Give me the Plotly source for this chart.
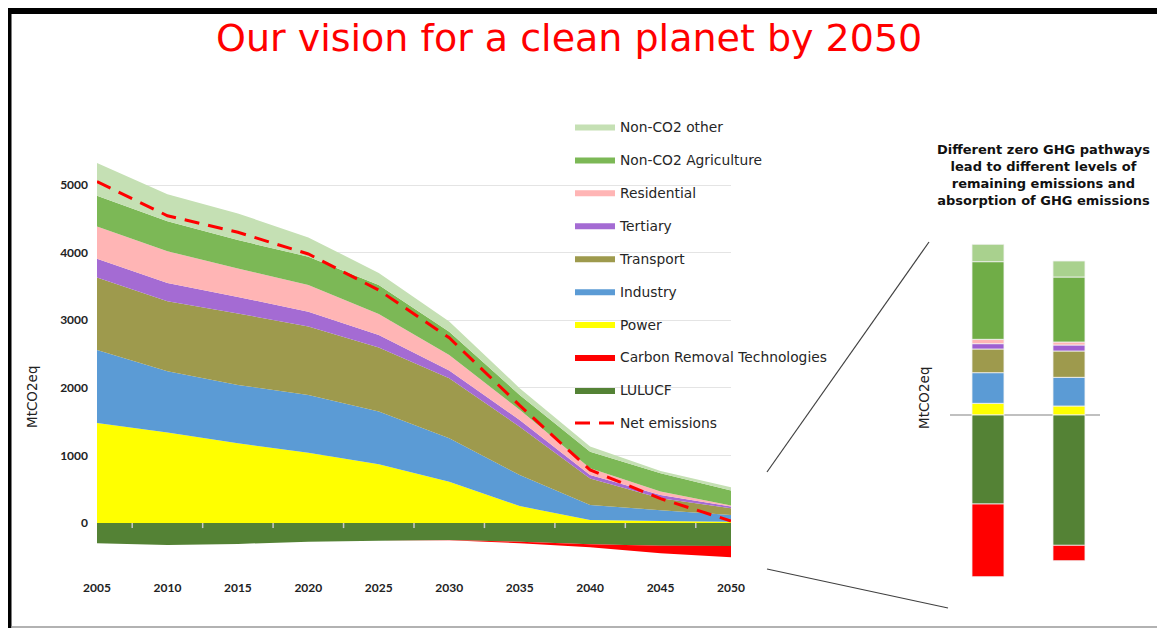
import plotly.graph_objects as go

# la pagina tiene 8 px de margen en el body: la figura se reduce y se desplaza
OFF = 8
W, H = 1165 - OFF, 628 - OFF

# datos (MtCO2eq)
years = [2005, 2010, 2015, 2020, 2025, 2030, 2035, 2040, 2045, 2050]
year_labels = [str(y) for y in years]

power = [1480, 1340, 1180, 1040, 870, 610, 250, 45, 30, 20]
industry = [1080, 905, 860, 855, 780, 645, 460, 220, 160, 100]
transport = [1070, 1035, 1060, 1010, 945, 885, 715, 395, 175, 100]
tertiary = [280, 270, 245, 220, 185, 115, 100, 50, 50, 25]
residential = [475, 470, 420, 395, 310, 230, 150, 100, 50, 15]
non_co2_agri = [455, 445, 420, 420, 430, 345, 220, 245, 270, 220]
non_co2_other = [485, 400, 395, 285, 180, 150, 100, 75, 35, 50]
lulucf = [-300, -325, -310, -276, -261, -251, -276, -315, -335, -340]
carbon_removal = [0, 0, 0, 0, 0, -5, -24, -45, -114, -167]
net_emissions = [5050, 4545, 4300, 3980, 3445, 2740, 1740, 785, 360, 30]

y_ticks = [0, 1000, 2000, 3000, 4000, 5000]

# barras de la derecha: dos trayectorias en 2050
pathways = ["A", "B"]
bar_power = [35, 27]
bar_industry = [92, 86]
bar_transport = [71, 79]
bar_tertiary = [16, 18]
bar_residential = [13, 9]
bar_agri = [233, 195]
bar_other = [52, 48]
bar_lulucf = [-267, -391]
bar_crt = [-218, -46]


def px_x(x):
    return max(x - OFF, 0) / W


def px_y(y):
    return 1 - max(y - OFF, 0) / H


font_txt = "DejaVu Sans, Verdana, sans-serif"
font_tick = "Lato, Calibri, sans-serif"

fig = go.Figure()

# areas positivas (orden de apilado desde cero)
capas = [
    ("Power", power, "#ffff00", 7),
    ("Industry", industry, "#5b9bd5", 6),
    ("Transport", transport, "#9e9a4d", 5),
    ("Tertiary", tertiary, "#a46bd3", 4),
    ("Residential", residential, "#ffb5b5", 3),
    ("Non-CO2 Agriculture", non_co2_agri, "#7cb856", 2),
    ("Non-CO2 other", non_co2_other, "#c5e0b4", 1),
]
for nombre, vals, color, rank in capas:
    fig.add_trace(go.Scatter(
        x=years, y=vals, name=nombre, stackgroup="pos", mode="lines",
        line=dict(width=0, color=color), fillcolor=color,
        legendgroup=nombre, legendrank=rank, hoverinfo="skip"))

# areas negativas
for nombre, vals, color, rank in [("LULUCF", lulucf, "#548235", 9),
                                  ("Carbon Removal Technologies", carbon_removal, "#ff0000", 8)]:
    fig.add_trace(go.Scatter(
        x=years, y=vals, name=nombre, stackgroup="neg", mode="lines",
        line=dict(width=0, color=color), fillcolor=color,
        legendgroup=nombre, legendrank=rank, hoverinfo="skip"))

# linea de emisiones netas
fig.add_trace(go.Scatter(
    x=years, y=net_emissions, name="Net emissions", mode="lines",
    line=dict(color="#ff0000", width=3, dash="15px,9px"),
    legendgroup="Net emissions", legendrank=10, hoverinfo="skip"))

# barras de la derecha
barras = [
    (bar_power, "#ffff00"), (bar_industry, "#5b9bd5"), (bar_transport, "#9e9a4d"),
    (bar_tertiary, "#9e5fd1"), (bar_residential, "#ffb5b5"), (bar_agri, "#70ad47"),
    (bar_other, "#a9d18e"), (bar_lulucf, "#548235"), (bar_crt, "#ff0000"),
]
for vals, color in barras:
    fig.add_trace(go.Bar(
        x=pathways, y=vals, xaxis="x2", yaxis="y2", showlegend=False,
        marker=dict(color=color, line=dict(width=0.8, color="#f2f2f2")),
        hoverinfo="skip"))

# marcas de tick entre categorias sobre el cero
formas = []
for a, b in zip(years[:-1], years[1:]):
    formas.append(dict(type="line", xref="x", yref="y", x0=(a + b) / 2, x1=(a + b) / 2,
                       y0=0, y1=-75, line=dict(color="#c8c8c8", width=1.5), layer="above"))

# lineas de zoom hacia el panel derecho
formas.append(dict(type="line", xref="paper", yref="paper", x0=px_x(767), y0=px_y(472),
                   x1=px_x(929), y1=px_y(242), line=dict(color="#404040", width=1.2)))
formas.append(dict(type="line", xref="paper", yref="paper", x0=px_x(767), y0=px_y(569),
                   x1=px_x(948), y1=px_y(608), line=dict(color="#404040", width=1.2)))

# marco
formas.append(dict(type="rect", xref="paper", yref="paper", x0=px_x(6), x1=px_x(1165),
                   y0=px_y(14), y1=px_y(8), fillcolor="black", line=dict(width=0)))
formas.append(dict(type="rect", xref="paper", yref="paper", x0=px_x(6), x1=px_x(11.5),
                   y0=px_y(628), y1=px_y(8), fillcolor="black", line=dict(width=0)))
formas.append(dict(type="line", xref="paper", yref="paper", x0=px_x(1164), x1=px_x(1164),
                   y0=px_y(14), y1=px_y(627), line=dict(color="#333333", width=1.5)))
formas.append(dict(type="line", xref="paper", yref="paper", x0=px_x(11), x1=px_x(1165),
                   y0=px_y(627), y1=px_y(627), line=dict(color="#999999", width=1.5)))

anotaciones = [
    dict(text="Our vision for a clean planet by 2050", x=px_x(569), y=px_y(38),
         font=dict(family=font_txt, size=38, color="#ff0000")),
    dict(text="MtCO2eq", x=px_x(32), y=px_y(397), textangle=-90,
         font=dict(family=font_txt, size=13.5, color="#222222")),
    dict(text="MtCO2eq", x=px_x(924), y=px_y(398), textangle=-90,
         font=dict(family=font_txt, size=13.5, color="#222222")),
    dict(text="Different zero GHG pathways<br>lead to different levels of<br>"
              "remaining emissions and<br>absorption of GHG emissions",
         x=px_x(1043), y=px_y(175), align="center",
         font=dict(family=font_txt, size=13, color="#111111", weight="bold")),
]
for a in anotaciones:
    a.update(xref="paper", yref="paper", showarrow=False, xanchor="center", yanchor="middle")

# escala: cero en y=523 px, 1000 = 67.6 px
y_lo = -(575 - 523) / 67.6 * 1000
y_hi = (523 - 150) / 67.6 * 1000

fig.update_layout(
    width=W, height=H,
    margin=dict(l=0, r=0, t=0, b=0),
    paper_bgcolor="white", plot_bgcolor="rgba(0,0,0,0)",
    showlegend=True,
    barmode="relative", bargap=0.605,
    xaxis=dict(domain=[px_x(97), px_x(731)], range=[2005, 2050], tickvals=years,
               ticktext=year_labels, showgrid=False, zeroline=False, showline=False,
               ticks="", automargin=False, ticklabelstandoff=4,
               tickfont=dict(family=font_tick, size=12, color="#222222", weight="bold")),
    yaxis=dict(domain=[px_y(575), px_y(150)], range=[y_lo, y_hi], tickvals=y_ticks,
               showgrid=True, gridcolor="#e4e4e4", gridwidth=1.3, zeroline=False,
               showline=False, ticks="", automargin=False, ticklabelstandoff=8,
               tickfont=dict(family=font_tick, size=12, color="#222222", weight="bold")),
    xaxis2=dict(domain=[px_x(950), px_x(1100)], anchor="y2", range=[-0.469, 1.383],
                showticklabels=False, showgrid=False, zeroline=False, showline=False,
                ticks="", automargin=False),
    yaxis2=dict(domain=[px_y(590), px_y(230)], anchor="x2", range=[-525, 555],
                showticklabels=False, showgrid=False, zeroline=True,
                zerolinecolor="#c0c0c0", zerolinewidth=1.5, showline=False,
                ticks="", automargin=False),
    legend=dict(x=px_x(570), y=px_y(111), xanchor="left", yanchor="top",
                bgcolor="rgba(0,0,0,0)", traceorder="grouped", tracegroupgap=12,
                font=dict(family=font_txt, size=13.8, color="#262626"), itemwidth=40),
    shapes=formas,
    annotations=anotaciones,
)

fig.write_html("out.html")
